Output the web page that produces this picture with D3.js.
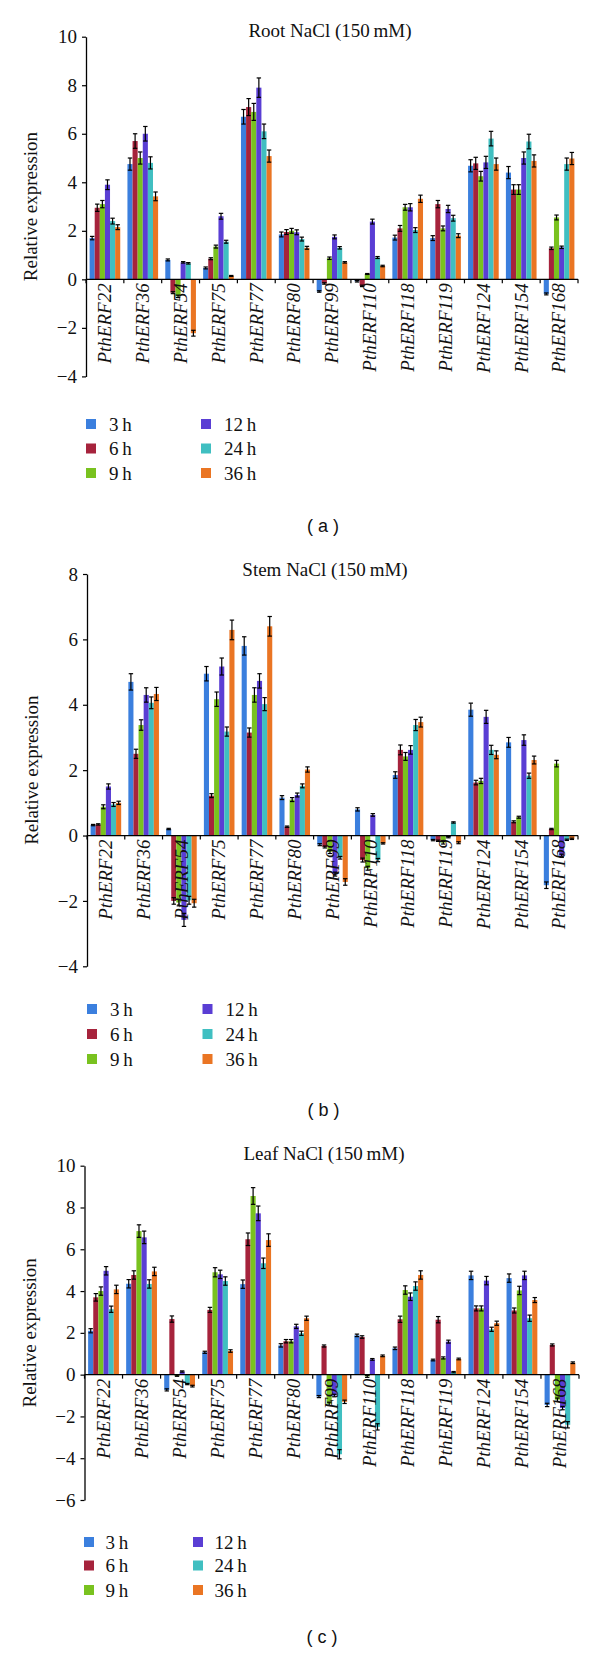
<!DOCTYPE html>
<html><head><meta charset="utf-8">
<script src="https://cdn.jsdelivr.net/npm/d3@7"></script>
<style>body{margin:0;background:#fff} svg{display:block}</style>
</head><body>
<svg id="chart" width="600" height="1653"></svg>
<script>
// ---------- data ----------
const categories = ["PthERF22","PthERF36","PthERF54","PthERF75","PthERF77","PthERF80","PthERF99","PthERF110","PthERF118","PthERF119","PthERF124","PthERF154","PthERF168"];
const seriesLabels = ["3\u2009h","6\u2009h","9\u2009h","12\u2009h","24\u2009h","36\u2009h"];
const seriesColors = ["#3b7fde","#a6233c","#79c21f","#5a3ed4","#40bfc1","#ea7523"];

// Root NaCl
const root3h  = [1.7, 4.75, 0.8, 0.47, 6.7, 1.85, -0.5, -0.08, 1.72, 1.7, 4.68, 4.4, -0.6];
const root6h  = [2.95, 5.7, -0.55, 0.85, 7.1, 1.95, -0.17, -0.27, 2.1, 3.1, 4.78, 3.7, 1.28];
const root9h  = [3.1, 5.0, -0.7, 1.35, 6.9, 2.0, 0.87, 0.22, 2.97, 2.1, 4.25, 3.7, 2.55];
const root12h = [3.9, 6.0, 0.7, 2.6, 7.9, 1.94, 1.75, 2.38, 2.97, 2.9, 4.82, 5.0, 1.32];
const root24h = [2.4, 4.8, 0.66, 1.55, 6.1, 1.66, 1.3, 0.9, 2.03, 2.52, 5.8, 5.68, 4.75];
const root36h = [2.15, 3.42, -2.22, 0.14, 5.08, 1.3, 0.7, 0.55, 3.32, 1.8, 4.75, 4.88, 4.98];
const rootErr3h  = [0.07, 0.25, 0.04, 0.04, 0.3, 0.1, 0.03, 0.03, 0.1, 0.1, 0.25, 0.25, 0.04];
const rootErr6h  = [0.15, 0.3, 0.04, 0.04, 0.35, 0.1, 0.03, 0.03, 0.12, 0.15, 0.25, 0.2, 0.05];
const rootErr9h  = [0.15, 0.25, 0.05, 0.06, 0.35, 0.1, 0.05, 0.02, 0.12, 0.1, 0.2, 0.2, 0.1];
const rootErr12h = [0.2, 0.3, 0.03, 0.12, 0.4, 0.1, 0.08, 0.1, 0.15, 0.15, 0.25, 0.25, 0.05];
const rootErr24h = [0.12, 0.25, 0.03, 0.06, 0.3, 0.08, 0.05, 0.04, 0.1, 0.12, 0.3, 0.3, 0.25];
const rootErr36h = [0.1, 0.18, 0.12, 0.02, 0.25, 0.06, 0.03, 0.03, 0.15, 0.08, 0.25, 0.25, 0.25];
const rootTicks = [10, 8, 6, 4, 2, 0, -2, -4];

// Stem NaCl
const stem3h  = [0.32, 4.7, 0.2, 4.95, 5.8, 1.16, -0.28, 0.8, 1.85, -0.14, 3.85, 2.85, -1.52];
const stem6h  = [0.34, 2.5, -2.0, 1.22, 3.15, 0.27, -0.35, -0.75, 2.62, -0.16, 1.62, 0.42, 0.2];
const stem9h  = [0.88, 3.38, -2.05, 4.17, 4.3, 1.1, -0.5, -1.0, 2.42, -0.22, 1.67, 0.56, 2.2];
const stem12h = [1.5, 4.3, -2.58, 5.17, 4.73, 1.24, -1.18, 0.63, 2.62, -0.05, 3.63, 2.92, -0.62];
const stem24h = [0.95, 4.06, -1.98, 3.18, 4.02, 1.52, -0.68, -0.75, 3.38, 0.4, 2.62, 1.83, -0.13];
const stem36h = [1.0, 4.33, -2.07, 6.29, 6.4, 2.02, -1.42, -0.24, 3.47, -0.22, 2.47, 2.31, -0.1];
const stemErr3h  = [0.02, 0.25, 0.02, 0.22, 0.28, 0.06, 0.03, 0.05, 0.1, 0.02, 0.2, 0.15, 0.1];
const stemErr6h  = [0.02, 0.14, 0.1, 0.06, 0.14, 0.02, 0.03, 0.06, 0.15, 0.02, 0.07, 0.03, 0.02];
const stemErr9h  = [0.06, 0.16, 0.1, 0.22, 0.22, 0.06, 0.05, 0.06, 0.12, 0.04, 0.08, 0.03, 0.1];
const stemErr12h = [0.08, 0.22, 0.2, 0.26, 0.22, 0.06, 0.06, 0.04, 0.13, 0.02, 0.2, 0.16, 0.05];
const stemErr24h = [0.06, 0.18, 0.12, 0.14, 0.2, 0.06, 0.04, 0.05, 0.17, 0.02, 0.14, 0.08, 0.02];
const stemErr36h = [0.05, 0.2, 0.12, 0.3, 0.3, 0.08, 0.1, 0.02, 0.15, 0.03, 0.12, 0.12, 0.02];
const stemTicks = [8, 6, 4, 2, 0, -2, -4];

// Leaf NaCl
const leaf3h  = [2.1, 4.35, -0.73, 1.07, 4.33, 1.4, -1.05, 1.88, 1.26, 0.7, 4.75, 4.62, -1.45];
const leaf6h  = [3.7, 4.77, 2.66, 3.1, 6.48, 1.6, 1.37, 1.8, 2.65, 2.63, 3.17, 3.07, 1.42];
const leaf9h  = [4.0, 6.87, -0.05, 4.9, 8.55, 1.6, -1.4, -0.08, 4.05, 0.8, 3.17, 4.03, -1.2];
const leaf12h = [4.97, 6.57, 0.15, 4.8, 7.72, 2.31, -1.0, 0.73, 3.73, 1.58, 4.5, 4.75, -1.6];
const leaf24h = [3.13, 4.34, -0.45, 4.48, 5.33, 1.98, -3.81, -2.5, 4.24, 0.12, 2.17, 2.7, -2.4];
const leaf36h = [4.08, 4.94, -0.55, 1.13, 6.44, 2.7, -1.3, 0.9, 4.77, 0.75, 2.46, 3.57, 0.57];
const leafErr3h  = [0.1, 0.2, 0.05, 0.05, 0.2, 0.08, 0.05, 0.06, 0.06, 0.04, 0.2, 0.2, 0.08];
const leafErr6h  = [0.18, 0.2, 0.15, 0.12, 0.3, 0.08, 0.05, 0.06, 0.15, 0.15, 0.12, 0.12, 0.05];
const leafErr9h  = [0.2, 0.3, 0.03, 0.22, 0.4, 0.08, 0.08, 0.05, 0.2, 0.05, 0.12, 0.2, 0.08];
const leafErr12h = [0.2, 0.3, 0.03, 0.2, 0.35, 0.1, 0.06, 0.04, 0.18, 0.07, 0.2, 0.2, 0.08];
const leafErr24h = [0.15, 0.2, 0.03, 0.2, 0.25, 0.1, 0.22, 0.15, 0.2, 0.03, 0.1, 0.15, 0.15];
const leafErr36h = [0.2, 0.2, 0.04, 0.06, 0.3, 0.1, 0.08, 0.04, 0.2, 0.04, 0.1, 0.12, 0.04];
const leafTicks = [10, 8, 6, 4, 2, 0, -2, -4, -6];

// ---------- drawing ----------
const svg = d3.select("#chart");
const SERIF = "'Liberation Serif','Times New Roman',serif";
const SANS = "'Liberation Sans',Arial,sans-serif";

function drawPanel(p) {
  const g = svg.append("g");
  const x = d3.scaleBand().domain(categories).range(p.xRange).paddingInner(0.19).paddingOuter(0.095);
  const xs = d3.scaleBand().domain(d3.range(seriesLabels.length)).range([0, x.bandwidth()]);
  const y = d3.scaleLinear().domain(p.domain).range(p.yRange);
  const y0 = y(0);

  // title
  g.append("text").attr("x", p.titleX).attr("y", p.titleY).attr("text-anchor", "middle")
    .attr("font-family", SERIF).attr("font-size", 19).attr("fill", "#111").text(p.title);

  // y axis
  const ax = g.append("g").attr("transform", `translate(${p.xRange[0]},0)`)
    .call(d3.axisLeft(y).tickValues(p.ticks).tickSize(4).tickSizeOuter(0).tickPadding(5)
      .tickFormat(d => d < 0 ? "\u2212" + Math.abs(d) : String(d)));
  ax.attr("font-family", SERIF).attr("font-size", 19);
  ax.select(".domain").attr("stroke", "#000").attr("stroke-width", 1.3);
  ax.selectAll(".tick line").attr("stroke", "#000").attr("stroke-width", 1.2);
  ax.selectAll(".tick text").attr("font-family", SERIF).attr("font-size", 19).attr("fill", "#111");

  // y label
  const yMid = (p.yRange[0] + p.yRange[1]) / 2;
  g.append("text").attr("transform", `translate(${p.yLabelX},${yMid}) rotate(-90)`)
    .attr("text-anchor", "middle").attr("font-family", SERIF).attr("font-size", 19).attr("fill", "#111")
    .text("Relative expression");

  // bars
  p.values.forEach((vals, si) => {
    g.append("g").selectAll("rect").data(vals).join("rect")
      .attr("x", (d, i) => x(categories[i]) + xs(si))
      .attr("width", xs.bandwidth())
      .attr("y", d => Math.min(y(d), y0))
      .attr("height", d => Math.abs(y(d) - y0))
      .attr("fill", seriesColors[si]);
  });
  // error bars
  p.values.forEach((vals, si) => {
    const errs = p.errors[si];
    const eg = g.append("g").attr("stroke", "#000").attr("stroke-width", 1.2);
    vals.forEach((v, i) => {
      const cx = x(categories[i]) + xs(si) + xs.bandwidth() / 2;
      const hw = 2.2;
      const yt = y(v + errs[i]), yb = y(v - errs[i]);
      eg.append("line").attr("x1", cx).attr("x2", cx).attr("y1", yt).attr("y2", yb);
      eg.append("line").attr("x1", cx - hw).attr("x2", cx + hw).attr("y1", yt).attr("y2", yt);
      eg.append("line").attr("x1", cx - hw).attr("x2", cx + hw).attr("y1", yb).attr("y2", yb);
    });
  });

  // x axis line and separators
  g.append("line").attr("x1", p.xRange[0]).attr("x2", p.xRange[1]).attr("y1", y0).attr("y2", y0)
    .attr("stroke", "#000").attr("stroke-width", 1.3);
  const step = x.step();
  const bounds = d3.range(categories.length + 1).map(k => p.xRange[0] + k * step);
  g.append("g").selectAll("line").data(bounds).join("line")
    .attr("x1", d => d).attr("x2", d => d).attr("y1", y0).attr("y2", y0 + 4)
    .attr("stroke", "#000").attr("stroke-width", 1.2);

  // category labels
  g.append("g").selectAll("text").data(categories).join("text")
    .attr("transform", d => `translate(${x(d) + x.bandwidth() / 2},${y0 + 4}) rotate(-90)`)
    .attr("text-anchor", "end").attr("dy", "0.33em")
    .attr("font-family", SERIF).attr("font-style", "italic").attr("font-size", 19).attr("fill", "#111")
    .text(d => d);

  // legend
  const lg = g.append("g");
  seriesLabels.forEach((lab, i) => {
    const col = Math.floor(i / 3), row = i % 3;
    const lx = p.legendX[col], ly = p.legendY[row];
    lg.append("rect").attr("x", lx).attr("y", ly - 5).attr("width", 10).attr("height", 10).attr("fill", seriesColors[i]);
    lg.append("text").attr("x", lx + p.legendTextDx).attr("y", ly).attr("dy", "0.35em")
      .attr("font-family", SERIF).attr("font-size", 19).attr("fill", "#111").text(lab);
  });

  // panel tag
  g.append("text").attr("x", p.tagX).attr("y", p.tagY).attr("dy", "0.35em").attr("text-anchor", "middle")
    .attr("font-family", SANS).attr("font-size", 18).attr("fill", "#111").attr("xml:space", "preserve")
    .text(p.tag);
}

drawPanel({
  title: "Root NaCl (150\u2009mM)", titleX: 330, titleY: 37,
  values: [root3h, root6h, root9h, root12h, root24h, root36h],
  errors: [rootErr3h, rootErr6h, rootErr9h, rootErr12h, rootErr24h, rootErr36h],
  ticks: rootTicks, domain: [-4, 10], xRange: [86, 578], yRange: [376.4, 36.7], yLabelX: 37,
  legendX: [86, 201], legendY: [424, 448.5, 473], legendTextDx: 23,
  tag: "( a )", tagX: 323, tagY: 526
});
drawPanel({
  title: "Stem NaCl (150\u2009mM)", titleX: 325, titleY: 575.5,
  values: [stem3h, stem6h, stem9h, stem12h, stem24h, stem36h],
  errors: [stemErr3h, stemErr6h, stemErr9h, stemErr12h, stemErr24h, stemErr36h],
  ticks: stemTicks, domain: [-4, 8], xRange: [87, 578], yRange: [966.3, 574], yLabelX: 38,
  legendX: [87, 202.5], legendY: [1009, 1034, 1059], legendTextDx: 23,
  tag: "( b )", tagX: 323.5, tagY: 1110
});
drawPanel({
  title: "Leaf NaCl (150\u2009mM)", titleX: 324, titleY: 1160,
  values: [leaf3h, leaf6h, leaf9h, leaf12h, leaf24h, leaf36h],
  errors: [leafErr3h, leafErr6h, leafErr9h, leafErr12h, leafErr24h, leafErr36h],
  ticks: leafTicks, domain: [-6, 10], xRange: [84.5, 579], yRange: [1500, 1165.7], yLabelX: 36,
  legendX: [84, 193], legendY: [1542, 1565.5, 1590], legendTextDx: 21.5,
  tag: "( c )", tagX: 322, tagY: 1637
});
</script>
</body></html>
